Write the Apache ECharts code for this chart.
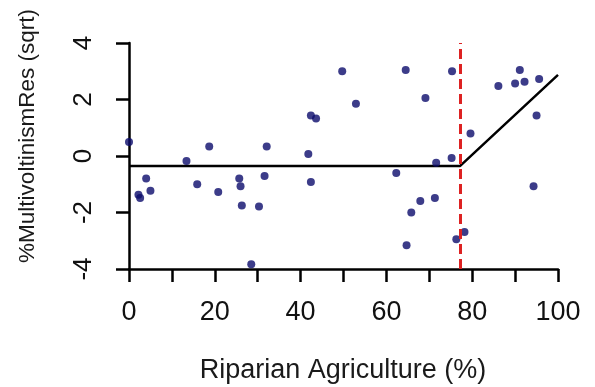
<!DOCTYPE html>
<html>
<head>
<meta charset="utf-8">
<script src="https://cdn.jsdelivr.net/npm/echarts@6/dist/echarts.min.js"></script>
<style>
html,body{margin:0;padding:0;background:#fff;}
#chart{width:595px;height:387px;}
</style>
</head>
<body>
<div id="chart"></div>
<script>
// Observed points: riparian agriculture (%) and %MultivoltinismRes (sqrt)
const agriX = [0, 2.2, 2.6, 4.0, 5.0, 13.4, 15.9, 18.7, 20.8, 25.7, 26.0, 26.3, 28.5, 30.3, 31.6, 32.1,
  41.8, 42.4, 42.4, 43.6, 49.7, 52.9, 64.5, 62.3, 69.1, 71.6, 75.2, 75.3, 71.3, 67.9, 65.8, 64.7,
  76.3, 78.2, 79.6, 86.1, 90.0, 91.1, 92.2, 95.6, 95.0, 94.3];
const resY = [0.50, -1.37, -1.49, -0.80, -1.23, -0.18, -1.00, 0.34, -1.27, -0.80, -1.07, -1.75, -3.83, -1.79, -0.71, 0.34,
  0.07, -0.92, 1.43, 1.33, 3.00, 1.85, 3.04, -0.60, 2.05, -0.24, -0.07, 3.00, -1.49, -1.59, -2.00, -3.16,
  -2.95, -2.69, 0.80, 2.48, 2.57, 3.04, 2.63, 2.73, 1.43, -1.07];
// Piecewise (broken-stick) fit
const fitX = [0, 77.2, 100];
const fitY = [-0.35, -0.35, 2.87];
const breakPoint = 77.2;
// Axis ticks
const xTickLabels = [0, 20, 40, 60, 80, 100];
const yTickLabels = [-4, -2, 0, 2, 4];
const xTitle = 'Riparian Agriculture (%)';
const yTitle = '%MultivoltinismRes (sqrt)';

const points = agriX.map((x, i) => [x, resY[i]]);
const fitLine = fitX.map((x, i) => [x, fitY[i]]);
const FONT = '"Liberation Sans", Arial, sans-serif';

const chart = echarts.init(document.getElementById('chart'), null, {renderer: 'canvas'});
chart.setOption({
  animation: false,
  backgroundColor: '#ffffff',
  grid: {left: 129, right: 37, top: 43, bottom: 118, containLabel: false},
  xAxis: {
    type: 'value', min: 0, max: 100, interval: 10,
    axisLine: {show: true, onZero: false, lineStyle: {color: '#000', width: 2.5}},
    axisTick: {show: true, length: 13, lineStyle: {color: '#000', width: 2.5}},
    splitLine: {show: false},
    axisLabel: {
      margin: 30, fontSize: 27, color: '#111', fontFamily: FONT,
      formatter: v => xTickLabels.includes(v) ? String(v) : ''
    }
  },
  yAxis: {
    type: 'value', min: -4, max: 4, interval: 2,
    axisLine: {show: true, onZero: false, lineStyle: {color: '#000', width: 2.5}},
    axisTick: {show: true, length: 13, lineStyle: {color: '#000', width: 2.5}},
    splitLine: {show: false},
    axisLabel: {
      margin: 32, fontSize: 26, color: '#111', fontFamily: FONT, rotate: 90,
      formatter: v => yTickLabels.includes(v) ? String(v) : ''
    }
  },
  graphic: [
    {type: 'text', x: 343, y: 371,
     style: {text: xTitle, font: '27px ' + FONT, fill: '#1a1a1a', align: 'center', verticalAlign: 'middle'}},
    {type: 'text', x: 28, y: 136, rotation: Math.PI / 2,
     style: {text: yTitle, font: '22.5px ' + FONT, fill: '#1a1a1a', align: 'center', verticalAlign: 'middle'}}
  ],
  series: [
    {
      type: 'scatter', data: points, symbolSize: 8,
      itemStyle: {color: '#0b0b6b'}, z: 3
    },
    {
      type: 'line', data: fitLine, showSymbol: false, symbol: 'none',
      lineStyle: {color: '#000', width: 2.5}, z: 2,
      markLine: {
        silent: true, symbol: 'none', label: {show: false},
        lineStyle: {color: '#dd2222', type: [10, 5], width: 3},
        data: [{xAxis: breakPoint}]
      }
    }
  ]
});
</script>
</body>
</html>
